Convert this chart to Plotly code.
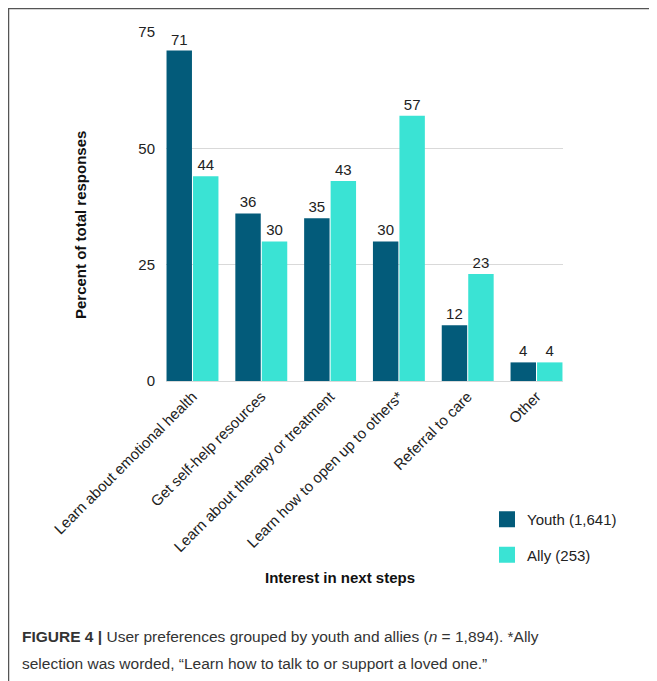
import plotly.graph_objects as go

categories = ["Learn about emotional health", "Get self-help resources",
              "Learn about therapy or treatment", "Learn how to open up to others*",
              "Referral to care", "Other"]
youth = [71, 36, 35, 30, 12, 4]
ally = [44, 30, 43, 57, 23, 4]
series_names = ["Youth (1,641)", "Ally (253)"]
y_ticks = [0, 25, 50, 75]

YOUTH_C = "#035b7a"
ALLY_C = "#3ae3d4"

OFF = 8  # default body margin of the page
W, H = 657 - OFF, 681 - OFF
# plot area in page pixels: x 166..563, y 32..381
L = 166 - OFF
R = W - (563 - OFF)
T = 32 - OFF
B = H - (381 - OFF)
pw, ph = W - L - R, H - T - B

def px(x):
    return (x - OFF - L) / pw

def py(y):
    return (H - B - (y - OFF)) / ph

FONT = "Liberation Sans, Arial, sans-serif"

fig = go.Figure()
for name, vals, col in [(series_names[0], youth, YOUTH_C), (series_names[1], ally, ALLY_C)]:
    fig.add_trace(go.Bar(
        x=categories, y=vals, name=name, marker_color=col, marker_line_width=0,
        text=vals, textposition="outside", texttemplate="%{y}",
        textfont=dict(size=15, color="#222222", family=FONT),
        cliponaxis=False, showlegend=False))

# legend proxies with larger square symbols
for i, (name, col) in enumerate([(series_names[0], YOUTH_C), (series_names[1], ALLY_C)]):
    fig.add_trace(go.Scatter(x=[None], y=[None], mode="markers", name=name,
                             legendgroup=f"g{i}",
                             marker=dict(symbol="square", size=19, color=col)))

fig.update_layout(
    width=W, height=H,
    margin=dict(l=L, r=R, t=T, b=B, autoexpand=False),
    paper_bgcolor="white", plot_bgcolor="white",
    barmode="group", bargap=0.23, bargroupgap=0.04,
    font=dict(family=FONT, size=15, color="#222222"),
    legend=dict(x=px(487), y=py(503), xanchor="left", yanchor="top",
                font=dict(size=15, color="#222222"), tracegroupgap=13,
                itemwidth=30, bgcolor="rgba(0,0,0,0)"),
    xaxis=dict(type="category", range=[-0.5 + 0.115, 5.5 - 0.115],
               tickangle=-45, showgrid=False, showline=True, linecolor="#d9d9d9",
               linewidth=1, ticks="", tickfont=dict(size=15, color="#222222")),
    yaxis=dict(range=[0, 75], tickvals=y_ticks, showgrid=True, gridcolor="#d9d9d9",
               gridwidth=1, zeroline=False, ticks="", ticklabelstandoff=10,
               tickfont=dict(size=15, color="#222222")),
)

fig.add_annotation(text="<b>Percent of total responses</b>", textangle=-90,
                   x=px(80), y=py(225), xref="paper", yref="paper",
                   xanchor="center", yanchor="middle",
                   showarrow=False, font=dict(size=15, color="#111111"))
fig.add_annotation(text="<b>Interest in next steps</b>",
                   x=px(340), y=py(577), xref="paper", yref="paper",
                   xanchor="center", yanchor="middle",
                   showarrow=False, font=dict(size=15, color="#111111"))
caption_lines = [
    "<b>FIGURE 4 |</b> User preferences grouped by youth and allies (<i>n</i> = 1,894). *Ally",
    "selection was worded, \u201cLearn how to talk to or support a loved one.\u201d",
]
for line, yy in zip(caption_lines, [636, 663]):
    fig.add_annotation(
        text=line, x=px(20), y=py(yy), xref="paper", yref="paper",
        xanchor="left", yanchor="middle", align="left", showarrow=False,
        font=dict(size=15.5, color="#333333", family=FONT))

# frame around the figure
fig.add_shape(type="rect", xref="paper", yref="paper",
              x0=px(8.5), y0=py(720), x1=px(720), y1=py(8.5),
              line=dict(color="#555555", width=1.5), fillcolor="rgba(0,0,0,0)", layer="below")

fig.write_html("out.html")
